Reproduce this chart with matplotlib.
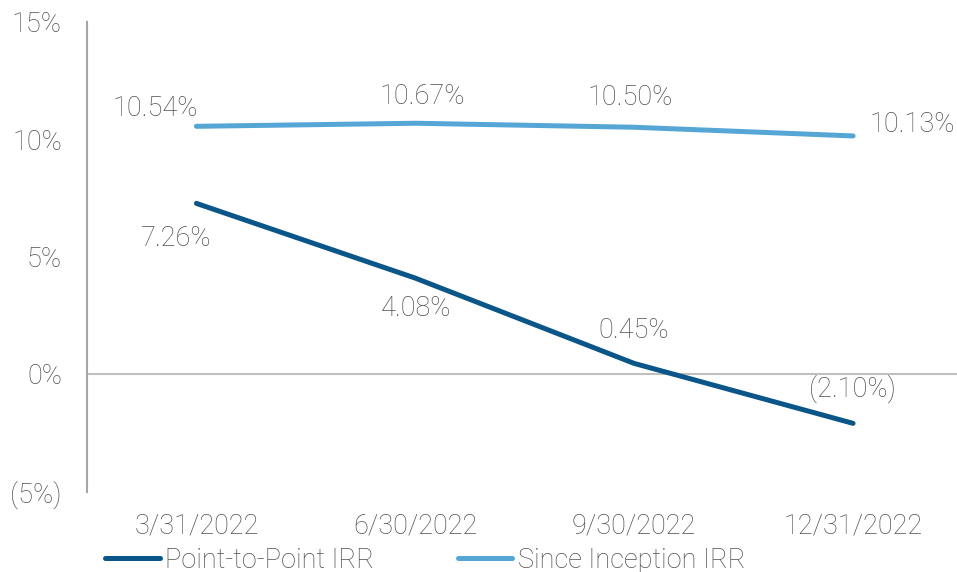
import matplotlib
matplotlib.use("Agg")
import matplotlib.pyplot as plt

dates = ["3/31/2022", "6/30/2022", "9/30/2022", "12/31/2022"]
point_to_point = [7.26, 4.08, 0.45, -2.10]
since_inception = [10.54, 10.67, 10.50, 10.13]
y_ticks = [-5, 0, 5, 10, 15]

# label offsets in pixels (dx, dy)
ptp_off = [(-20, -35), (1, -30), (0, 33), (-1, 35)]
si_off = [(-41, 18), (7, 27), (-4, 30), (59, 11)]

def pct(v, dec=0):
    s = f"{abs(v):.{dec}f}%"
    return f"({s})" if v < 0 else s

plt.rcParams['font.family'] = ['Roboto', 'DejaVu Sans']
plt.rcParams['font.weight'] = 'light'
TXT = '#505050'
DARK = '#0b5689'
LIGHT = '#55a5d5'
FS = 19.5

fig = plt.figure(figsize=(9.57, 5.72), dpi=100)
ax = fig.add_axes([87/957, 80.5/572, (962.5-87)/957, 470/572])
x = list(range(len(dates)))
ax.plot(x, point_to_point, color=DARK, lw=3.6, solid_capstyle='round', label='Point-to-Point IRR', zorder=3)
ax.plot(x, since_inception, color=LIGHT, lw=3.6, solid_capstyle='round', label='Since Inception IRR', zorder=3)

for xi, v, (dx, dy) in zip(x, point_to_point, ptp_off):
    ax.annotate(pct(v, 2), (xi, v), xytext=(dx, dy), textcoords='offset pixels',
                ha='center', va='center', fontsize=FS, color=TXT, fontweight='light')
for xi, v, (dx, dy) in zip(x, since_inception, si_off):
    ax.annotate(pct(v, 2), (xi, v), xytext=(dx, dy), textcoords='offset pixels',
                ha='center', va='center', fontsize=FS, color=TXT, fontweight='light')

ax.set_xlim(-0.5, 3.5)
ax.set_ylim(-5, 15)
ax.set_yticks(y_ticks)
ax.set_yticklabels([pct(t) for t in y_ticks])
ax.set_xticks(x)
ax.set_xticklabels(dates)
ax.tick_params(axis='both', length=0, labelsize=FS, labelcolor=TXT)
ax.tick_params(axis='y', pad=18)
ax.tick_params(axis='x', pad=15)
for lab in ax.get_xticklabels() + ax.get_yticklabels():
    lab.set_fontweight('light')
for s in ['top', 'right', 'bottom']:
    ax.spines[s].set_visible(False)
ax.spines['left'].set_color('#a6a6a6')
ax.spines['left'].set_linewidth(1.5)
ax.axhline(0, color='#bfbfbf', lw=1.5, zorder=1)
ax.patch.set_alpha(0)

leg = fig.legend(loc='center left', bbox_to_anchor=(81/957, 12/572), ncol=2, frameon=False,
                 handlelength=2.0, handletextpad=0.2, columnspacing=3.1,
                 prop={'size': FS, 'weight': 'light'}, labelcolor=TXT)
for h in leg.get_lines():
    h.set_linewidth(3.6)

fig.savefig('out.png', dpi=100)
